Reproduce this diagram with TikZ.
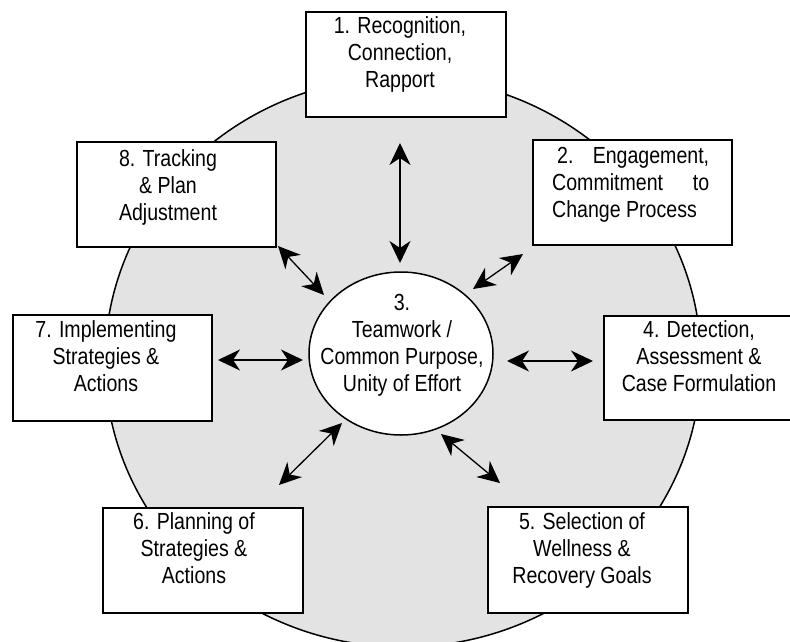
\documentclass[tikz,border=0pt]{standalone}
\usepackage{fontspec}
\setmainfont{Liberation Sans}[FakeStretch=0.84]
\usetikzlibrary{arrows.meta,shapes.geometric}
\definecolor{discgray}{HTML}{E3E3E3}

\tikzset{
  stagebox/.style={draw=black, line width=1.8pt, fill=white,
    minimum width=200pt, minimum height=105pt, inner sep=0pt},
  stagetext/.style={anchor=base, inner sep=0pt},
  link/.style={line width=1.3pt,
    {Stealth[length=22pt,width=21pt,inset=7pt]}-{Stealth[length=22pt,width=21pt,inset=7pt]}},
}
\newcommand{\stagefont}{\fontsize{23.3}{27}\selectfont}
\newcommand{\stagelines}[1]{\parbox[t]{190pt}{\centering\stagefont #1}}

\begin{document}
\begin{tikzpicture}[x=1pt,y=-1pt]
\useasboundingbox (0,0) rectangle (790,641);
\clip (0,0) rectangle (790,641);

% shared background disc
\draw[fill=discgray, line width=1.5pt] (403,362) ellipse [x radius=298, y radius=285];

% stage boxes
\node[stagebox] (b1) at (406,64.5) {};
\node[stagebox, minimum width=199pt] (b8) at (176.5,194.5) {};
\node[stagebox, minimum width=199pt] (b2) at (632.5,192.5) {};
\node[stagebox, minimum width=199pt, minimum height=106pt] (b7) at (112.5,368) {};
\node[stagebox, minimum height=104pt] (b4) at (704,368) {};
\node[stagebox, minimum height=105pt] (b6) at (203,560.5) {};
\node[stagebox, minimum height=106pt] (b5) at (588,560) {};

% hub
\node[draw=black, line width=1.5pt, fill=white, ellipse, minimum width=184pt,
  minimum height=163pt, inner sep=0pt] (hub) at (401,353.5) {};

% texts
\node[stagetext] (t1) at (400,33) {\stagelines{1. Recognition,\\Connection,\\Rapport}};
\node[stagetext] (t8) at (168,166) {\stagelines{8. Tracking\\\& Plan\\Adjustment}};
\node[stagetext, anchor=base west] (t2) at (552,163) {\parbox[t]{157pt}{\stagefont
  \hbox to 157pt{\hskip5pt 2.\hfil Engagement,}
  \hbox to 157pt{Commitment\hfil to}
  \hbox{Change Process}}};
\node[stagetext] (t7) at (106,337) {\stagelines{7. Implementing\\Strategies \&\\Actions}};
\node[stagetext] (t4) at (699,337) {\stagelines{4. Detection,\\Assessment \&\\Case Formulation}};
\node[stagetext] (t6) at (194,529) {\stagelines{6. Planning of\\Strategies \&\\Actions}};
\node[stagetext] (t5) at (582,529) {\stagelines{5. Selection of\\Wellness \&\\Recovery Goals}};
\node[stagetext] (t3) at (402,310) {\stagelines{3.\\Teamwork /\\Common Purpose,\\Unity of Effort}};

% two-way links between the hub and each stage
\coordinate (p1) at (400,143);  \coordinate (q1) at (400,263);
\coordinate (p8) at (278,246);  \coordinate (q8) at (324,295);
\coordinate (p2) at (523,254);  \coordinate (q2) at (473,289);
\coordinate (p7) at (218,360);  \coordinate (q7) at (303,360);
\coordinate (p4) at (593,361);  \coordinate (q4) at (507,361);
\coordinate (p6) at (279,485);  \coordinate (q6) at (342,423);
\coordinate (p5) at (500,483);  \coordinate (q5) at (441,434);
\foreach \k in {1,8,2,7,4,6,5}{\draw[link] (p\k) -- (q\k);}
\end{tikzpicture}
\end{document}
